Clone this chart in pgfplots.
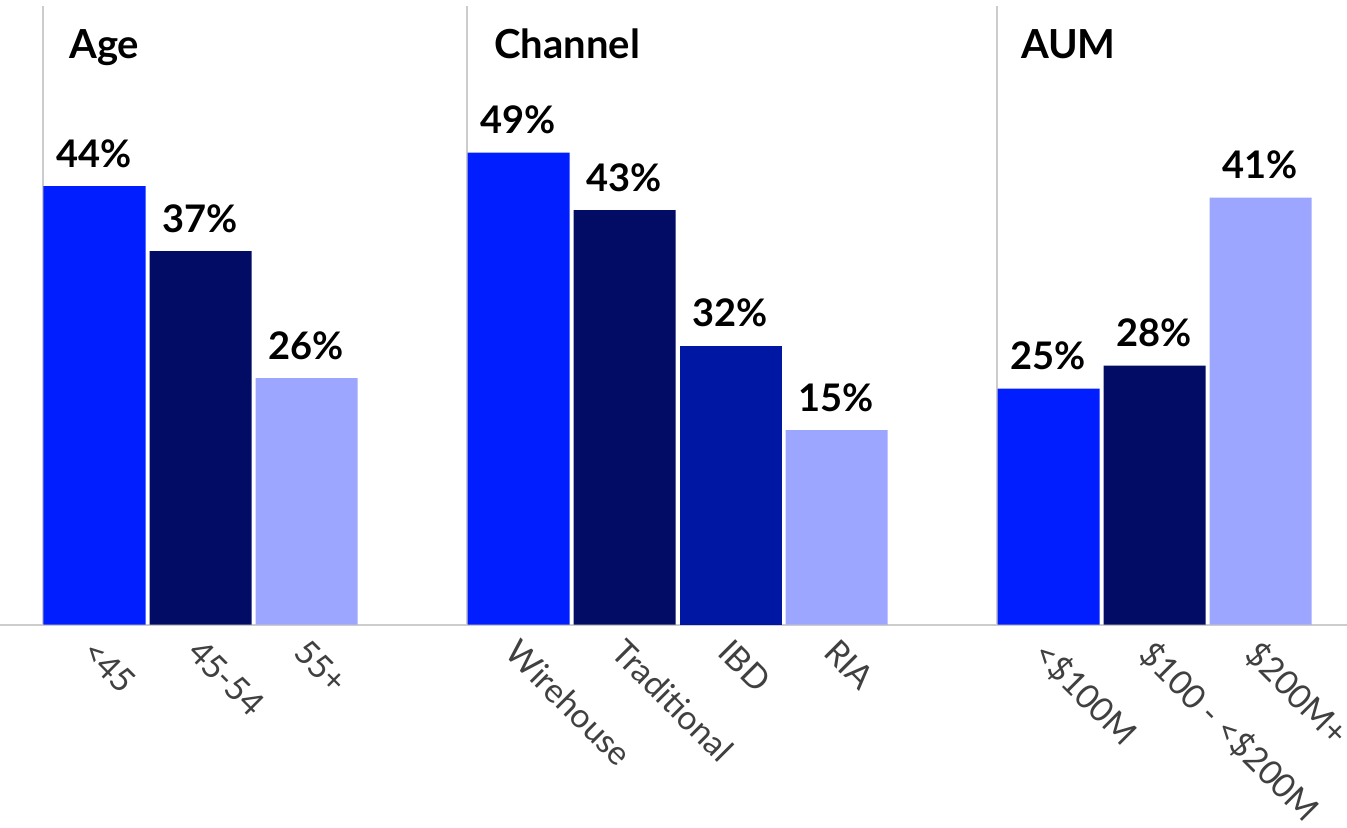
\documentclass[border=0pt]{standalone}
\usepackage{fontspec}
\setmainfont{Lato}
\usepackage{pgfplots}
\pgfplotsset{compat=1.18}
\definecolor{cBright}{HTML}{001EFF}
\definecolor{cNavy}{HTML}{020C64}
\definecolor{cMid}{HTML}{0017A3}
\definecolor{cLight}{HTML}{9DA6FF}
\definecolor{cRule}{HTML}{CCCCCC}
\definecolor{cTick}{HTML}{404040}
\begin{document}
\begin{tikzpicture}
\begin{axis}[
  scale only axis, width=673.5pt, height=413.5pt,
  xmin=-0.8915, xmax=11.816, ymin=-20.25, ymax=62.45,
  axis x line=middle, axis y line=none,
  axis line style={draw=cRule, line width=1pt, -},
  hide obscured x ticks=false,
  xtick={0,1,2,4,5,6,7,9,10,11},
  xticklabels={<45, 45-54, 55+, Wirehouse, Traditional, IBD, RIA, <\$100M, \$100 - <\$200M, \$200M+},
  major tick length=0pt,
  xticklabel style={rotate=-45, anchor=north west, inner sep=0pt,
    font=\fontsize{16.8}{20}\selectfont, text=cTick, xshift=5.2pt, yshift=-3.4pt},
  ytick=\empty,
  clip=false,
  bar width=51pt,
]
% separators
\addplot[sharp plot, draw=cRule, line width=1pt, forget plot] coordinates {(-0.486,0) (-0.486,61.85)};
\addplot[sharp plot, draw=cRule, line width=1pt, forget plot] coordinates {(3.514,0) (3.514,61.85)};
\addplot[sharp plot, draw=cRule, line width=1pt, forget plot] coordinates {(8.514,0) (8.514,61.85)};
% bars
\addplot[ybar, bar shift=0pt, fill=cBright, draw=none, point meta=explicit symbolic,
  nodes near coords, nodes near coords style={anchor=base, inner sep=0pt, yshift=9.5pt,
  font=\bfseries\fontsize{19}{21}\selectfont, text=black}]
  coordinates {(0,43.85) [44\%] (4,47.18) [49\%] (9,23.58) [25\%]};
\addplot[ybar, bar shift=0pt, fill=cNavy, draw=none, point meta=explicit symbolic,
  nodes near coords, nodes near coords style={anchor=base, inner sep=0pt, yshift=9.5pt,
  font=\bfseries\fontsize{19}{21}\selectfont, text=black}]
  coordinates {(1,37.35) [37\%] (5,41.45) [43\%] (10,25.88) [28\%]};
\addplot[ybar, bar shift=0pt, fill=cMid, draw=none, point meta=explicit symbolic,
  nodes near coords, nodes near coords style={anchor=base, inner sep=0pt, yshift=9.5pt,
  font=\bfseries\fontsize{19}{21}\selectfont, text=black}]
  coordinates {(6,27.88) [32\%]};
\addplot[ybar, bar shift=0pt, fill=cLight, draw=none, point meta=explicit symbolic,
  nodes near coords, nodes near coords style={anchor=base, inner sep=0pt, yshift=9.5pt,
  font=\bfseries\fontsize{19}{21}\selectfont, text=black}]
  coordinates {(2,24.65) [26\%] (7,19.45) [15\%] (11,42.68) [41\%]};
% titles
\node[anchor=base west, inner sep=0pt, font=\bfseries\fontsize{20}{22}\selectfont] at (axis cs:-0.2406,56.65) {Age};
\node[anchor=base west, inner sep=0pt, font=\bfseries\fontsize{20}{22}\selectfont] at (axis cs:3.769,56.65) {Channel};
\node[anchor=base west, inner sep=0pt, font=\bfseries\fontsize{20}{22}\selectfont] at (axis cs:8.738,56.65) {AUM};
\end{axis}
\pgfresetboundingbox
\path[use as bounding box] (current axis.south west) rectangle (current axis.north east);
\end{tikzpicture}
\end{document}
